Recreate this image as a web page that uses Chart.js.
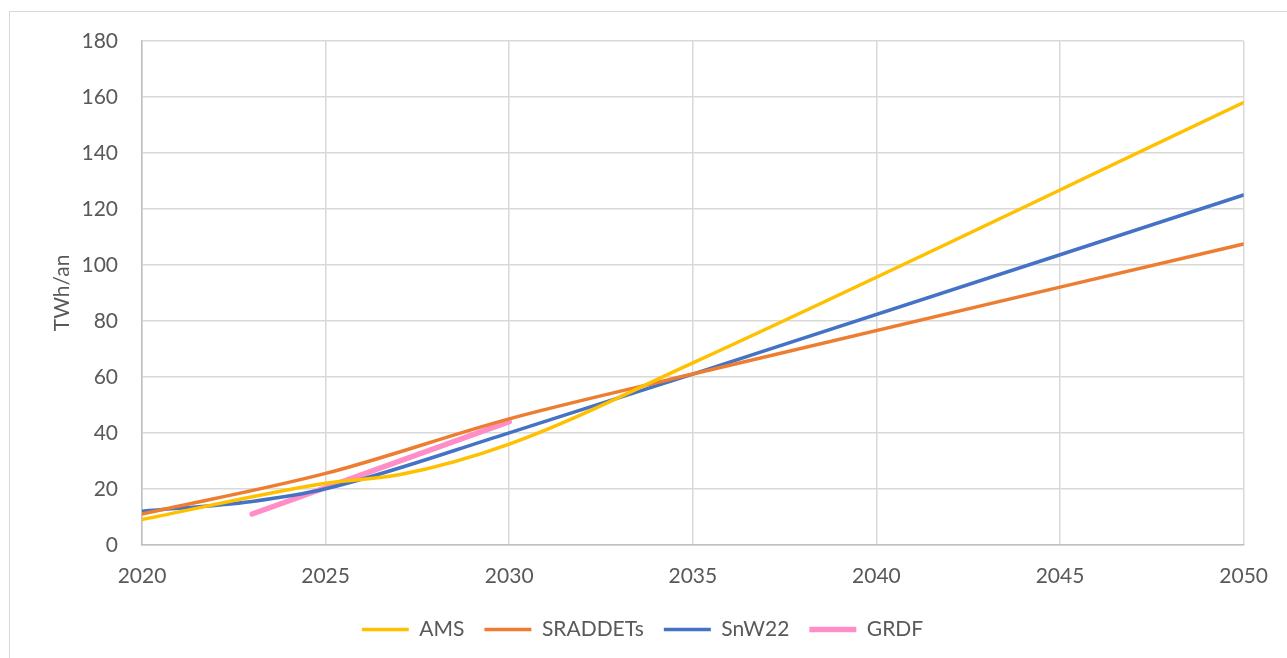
<!DOCTYPE html>
<html>
<head>
<meta charset="utf-8">
<script src="https://cdn.jsdelivr.net/npm/chart.js@4.4.1/dist/chart.umd.min.js"></script>
<style>
  html, body { margin: 0; padding: 0; background: #fff; }
  #frame { position: absolute; left: 9px; top: 11px; width: 1300px; height: 660px; border: 1px solid #d9d9d9; box-sizing: border-box; }
  #wrap { position: absolute; left: 0; top: 0; width: 1287px; height: 658px; }
</style>
</head>
<body>
<div id="frame"></div>
<div id="wrap"><canvas id="chart"></canvas></div>
<script>
// Biomethane trajectories, TWh/an
const amsYears = [2020, 2025, 2027, 2030, 2035, 2050];
const amsValues = [9, 22, 25, 36, 65, 158];

const sraddetYears = [2020, 2025, 2030, 2035, 2050];
const sraddetValues = [11, 25.5, 45, 61, 107.5];

const snwYears = [2020, 2023, 2025, 2030, 2035, 2050];
const snwValues = [12, 15.5, 20, 40, 61, 125];

const grdfYears = [2023, 2030];
const grdfValues = [11, 44];

const yTicks = [0, 20, 40, 60, 80, 100, 120, 140, 160, 180];
const xTicks = [2020, 2025, 2030, 2035, 2040, 2045, 2050];

const toPoints = (xs, ys) => xs.map((x, i) => ({ x: x, y: ys[i] }));

const font = { family: 'Lato', size: 21 };
const textColor = '#595959';

const chart = document.getElementById('chart');

new Chart(chart, {
    type: 'line',
    data: {
        datasets: [
            { label: 'AMS', data: toPoints(amsYears, amsValues), borderColor: '#FFC000', backgroundColor: '#FFC000', borderWidth: 3.5 },
            { label: 'SRADDETs', data: toPoints(sraddetYears, sraddetValues), borderColor: '#ED7D31', backgroundColor: '#ED7D31', borderWidth: 3.5 },
            { label: 'SnW22', data: toPoints(snwYears, snwValues), borderColor: '#4472C4', backgroundColor: '#4472C4', borderWidth: 3.5 },
            { label: 'GRDF', data: toPoints(grdfYears, grdfValues), borderColor: '#FF8EC6', backgroundColor: '#FF8EC6', borderWidth: 5.5 },
        ]
    },
    options: {
        responsive: true,
        maintainAspectRatio: false,
        animation: false,
        elements: {
            point: { radius: 0, hoverRadius: 0 },
            line: { cubicInterpolationMode: 'monotone', borderCapStyle: 'round' },
        },
        layout: {
            padding: { left: 40, right: 42, top: 41, bottom: 8 }
        },
        scales: {
            x: {
                type: 'linear',
                min: 2020,
                max: 2050,
                afterBuildTicks: (scale) => { scale.ticks = xTicks.map(v => ({ value: v })); },
                afterFit: (scale) => { scale.height = scale.height - 9; },
                ticks: {
                    color: textColor,
                    font: font,
                    padding: 19,
                    maxRotation: 0,
                    callback: (v) => String(v),
                },
                grid: { color: '#D9D9D9', lineWidth: 1.5, drawTicks: false },
                border: { color: '#BFBFBF', width: 1.5 },
            },
            y: {
                min: 0,
                max: 180,
                afterBuildTicks: (scale) => { scale.ticks = yTicks.map(v => ({ value: v })); },
                afterFit: (scale) => { scale.width = 102; },
                ticks: {
                    color: textColor,
                    font: font,
                    padding: 24,
                },
                grid: { color: '#D9D9D9', lineWidth: 1.5, drawTicks: false },
                border: { color: '#BFBFBF', width: 1.5 },
                title: {
                    display: true,
                    text: 'TWh/an',
                    color: textColor,
                    font: font,
                    padding: { top: 10, bottom: 0 },
                },
            }
        },
        plugins: {
            legend: {
                position: 'bottom',
                labels: {
                    usePointStyle: true,
                    pointStyle: 'line',
                    pointStyleWidth: 47,
                    color: textColor,
                    font: font,
                    padding: 20,
                },
            },
            tooltip: { enabled: false },
        },
    }
});
</script>
</body>
</html>
